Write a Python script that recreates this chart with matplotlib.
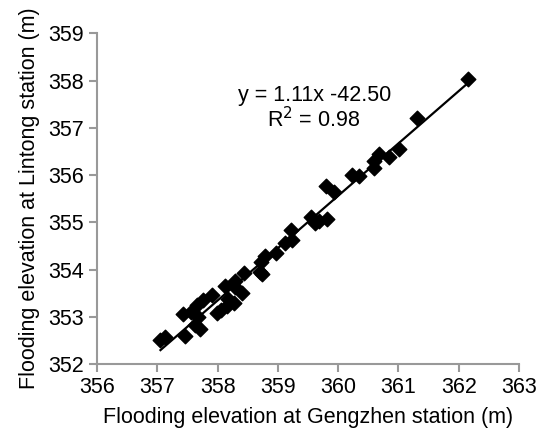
import numpy as np
import matplotlib
matplotlib.use("Agg")
from matplotlib import pyplot as plt

plt.rcParams['font.family'] = ['Liberation Sans', 'DejaVu Sans']

# flooding elevations (m)
gengzhen = [357.05, 357.12, 357.45, 357.43, 357.55, 357.62, 357.70, 357.68,
            357.65, 357.75, 357.90, 357.98, 358.05, 358.15, 358.27, 358.12,
            358.17, 358.28, 358.28, 358.40, 358.43, 358.70, 358.74, 358.72,
            358.78, 358.96, 359.12, 359.23, 359.22, 359.55, 359.62, 359.68,
            359.82, 359.80, 359.93, 360.23, 360.34, 360.59, 360.59, 360.68,
            360.85, 361.01, 361.30, 362.15]
lintong = [352.50, 352.58, 352.60, 353.05, 353.10, 352.82, 352.75, 353.00,
           353.25, 353.35, 353.45, 353.07, 353.15, 353.22, 353.30, 353.65,
           353.38, 353.75, 353.62, 353.50, 353.92, 353.95, 353.90, 354.15,
           354.28, 354.35, 354.57, 354.62, 354.83, 355.12, 354.98, 355.02,
           355.07, 355.76, 355.64, 356.00, 355.97, 356.14, 356.30, 356.44,
           356.38, 356.56, 357.21, 358.03]

x = np.array(gengzhen)
y = np.array(lintong)

fig = plt.figure(figsize=(5.37, 4.30), dpi=100)
ax = fig.add_axes([0.181, 0.1535, 0.7855, 0.769])

ax.scatter(x, y, marker='D', s=55, color='black', zorder=3)

# linear trend line over the data range
slope, intercept = np.polyfit(x, y, 1)
xs = np.array([x.min(), x.max()])
ax.plot(xs, slope * xs + intercept, color='black', lw=1.6, zorder=2)

ax.text(359.6, 357.69, "y = 1.11x -42.50", ha='center', va='center', fontsize=15.5)
ax.text(359.6, 357.18, "R$^2$ = 0.98", ha='center', va='center', fontsize=15.5)

ax.set_xlim(356, 363)
ax.set_ylim(352, 359)
ax.set_xticks(range(356, 364))
ax.set_yticks(range(352, 360))
ax.set_xlabel("Flooding elevation at Gengzhen station (m)", fontsize=15.5, labelpad=6)
ax.set_ylabel("Flooding elevation at Lintong station (m)", fontsize=15.5, labelpad=6)

for side in ['top', 'right']:
    ax.spines[side].set_visible(False)
for side in ['left', 'bottom']:
    ax.spines[side].set_color('#999999')
    ax.spines[side].set_linewidth(1.5)
ax.tick_params(colors='#999999', width=1.5, length=6, labelsize=15.5,
               labelcolor='black')

fig.savefig("out.png", dpi=100)
